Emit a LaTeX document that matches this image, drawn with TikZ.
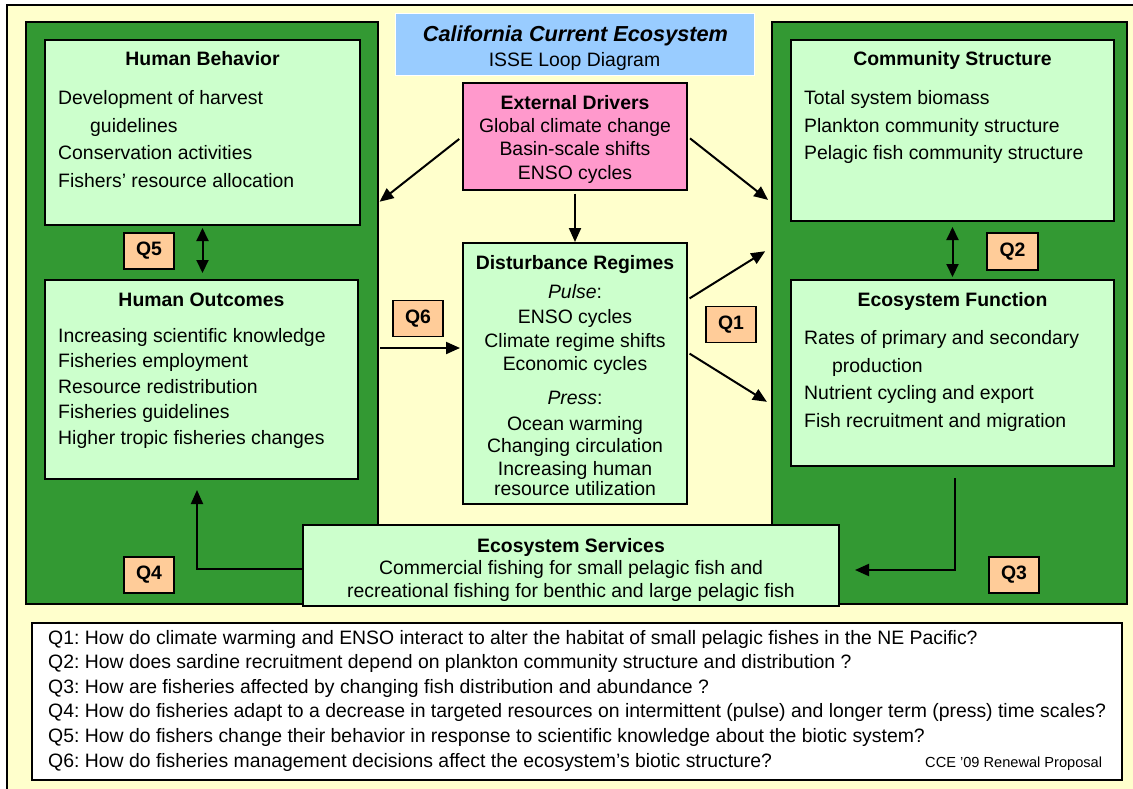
\documentclass[tikz,border=0pt]{standalone}
\usepackage{fontspec}
\setmainfont{Liberation Sans}
\usetikzlibrary{arrows.meta,positioning}
\frenchspacing

\definecolor{panelgreen}{HTML}{339933}
\definecolor{boxgreen}{HTML}{CCFFCC}
\definecolor{paleyellow}{HTML}{FFFFCC}
\definecolor{drvpink}{HTML}{FF99CC}
\definecolor{ttlblue}{HTML}{99CCFF}
\definecolor{qpeach}{HTML}{FFCC99}

\tikzset{
  panel/.style={draw, line width=1.3pt, fill=panelgreen, inner sep=0pt, outer sep=0pt},
  box/.style={draw, line width=1.3pt, fill=boxgreen, inner sep=0pt, outer sep=0pt},
  qbox/.style={draw, line width=1.3pt, fill=qpeach, minimum width=50pt, minimum height=36pt,
    inner sep=0pt, font=\fontsize{19.4}{24}\selectfont\bfseries},
  hd/.style={anchor=base, inner sep=0pt, font=\fontsize{19.4}{24}\selectfont\bfseries},
  ln/.style={anchor=base, inner sep=0pt},
  li/.style={anchor=base west, inner sep=0pt},
  arr/.style={line width=2pt, -{Triangle[length=14pt,width=12pt]}},
  darr/.style={line width=2pt, {Triangle[length=13pt,width=12pt]}-{Triangle[length=13pt,width=12pt]}},
}

\begin{document}
\begin{tikzpicture}[x=1pt, y=-1pt, font=\fontsize{19.4}{24}\selectfont]
    \useasboundingbox (0,0) rectangle (1133,788);
    \fill[white] (0,0) rectangle (1133,788);

    % Background sheet
    \draw[fill=paleyellow, line width=1.3pt] (7,5) rectangle (1145,800);

    % Green panels
    \node[panel, minimum width=352pt, minimum height=582pt] (lp) at (202,313) {};
    \node[panel, minimum width=355pt, minimum height=582pt] (rp) at (949.5,313) {};

    % Title
    \node[draw=white, line width=1pt, fill=ttlblue, minimum width=359pt, minimum height=62pt] (ttl) at (574.5,44) {};
    \node[ln, font=\fontsize{21.7}{24}\selectfont\bfseries\itshape] (ttl-a) at (575.5,41) {California Current Ecosystem};
    \node[ln] (ttl-b) at (574.5,66) {ISSE Loop Diagram};

    % Human Behavior
    \node[box, minimum width=315pt, minimum height=185pt] (hb) at (202.5,132.5) {};
    \node[hd] (hb-t) at (202.5,65) {Human Behavior};
    \foreach \y/\t in {104/Development of harvest, 132/\hspace*{32pt}guidelines,
                       159/Conservation activities, 187/Fishers’ resource allocation}
        \node[li] (hb-\y) at (58,\y) {\t};

    % Human Outcomes
    \node[box, minimum width=313pt, minimum height=199pt] (ho) at (201.5,379.5) {};
    \node[hd] (ho-t) at (201.5,306) {Human Outcomes};
    \foreach \t [count=\i] in {Increasing scientific knowledge, Fisheries employment,
                       Resource redistribution, Fisheries guidelines, Higher tropic fisheries changes}
        \node[li] (ho-\i) at (58,316.5+25.5*\i) {\t};

    % Community Structure
    \node[box, minimum width=323pt, minimum height=181pt] (cs) at (952.5,130.5) {};
    \node[hd] (cs-t) at (952.5,65) {Community Structure};
    \foreach \y/\t in {104/Total system biomass, 132/Plankton community structure,
                       159/Pelagic fish community structure}
        \node[li] (cs-\y) at (804,\y) {\t};

    % Ecosystem Function
    \node[box, minimum width=323pt, minimum height=186pt] (ef) at (952.5,373) {};
    \node[hd] (ef-t) at (952.5,306) {Ecosystem Function};
    \foreach \y/\t in {344/Rates of primary and secondary, 372/\hspace*{28pt}production,
                       399/Nutrient cycling and export, 427/Fish recruitment and migration}
        \node[li] (ef-\y) at (804,\y) {\t};

    % External Drivers
    \node[draw, line width=1.3pt, fill=drvpink, minimum width=224pt, minimum height=107pt] (ed) at (575,136.5) {};
    \node[hd] (ed-t) at (575,109) {External Drivers};
    \foreach \y/\t in {132/Global climate change, 155/Basin-scale shifts, 179/ENSO cycles}
        \node[ln] (ed-\y) at (575,\y) {\t};

    % Disturbance Regimes
    \node[box, minimum width=224pt, minimum height=261pt] (dr) at (575,373.5) {};
    \node[hd] (dr-t) at (575,269) {Disturbance Regimes};
    \foreach \y/\t in {298/\textit{Pulse}:, 323/ENSO cycles, 347/Climate regime shifts,
                       370/Economic cycles, 404/\textit{Press}:, 430/Ocean warming,
                       452/Changing circulation, 475/Increasing human, 495/resource utilization}
        \node[ln] (dr-\y) at (575,\y) {\t};

    % Ecosystem Services
    \node[box, minimum width=536pt, minimum height=81pt] (es) at (571,565.5) {};
    \node[hd] (es-t) at (571,552) {Ecosystem Services};
    \node[ln] (es-a) at (571,574) {Commercial fishing for small pelagic fish and};
    \node[ln] (es-b) at (571,597) {recreational fishing for benthic and large pelagic fish};

    % Question tags
    \node[qbox] (q5) at (149,251) {Q5};
    \node[qbox] (q4) at (149,575) {Q4};
    \node[qbox] (q6) at (418,318.5) {Q6};
    \node[qbox] (q1) at (731,324.5) {Q1};
    \node[qbox, minimum width=51pt, minimum height=37pt] (q2) at (1012.5,251.5) {Q2};
    \node[qbox] (q3) at (1014,575) {Q3};

    % Arrows
    \draw[arr, shorten <=3pt, shorten >=1pt] (ed.south) -- (dr.north);
    \draw[arr, shorten <=4pt, shorten >=2pt] (ed.west) -- (lp.east |- 0,203);
    \draw[arr, shorten <=3pt, shorten >=5pt] (ed.east) -- (rp.west |- 0,203);
    \draw[arr, shorten <=3pt, shorten >=8pt] (dr.east |- 0,300) -- (rp.west |- 0,247);
    \draw[arr, shorten <=3pt, shorten >=6pt] (dr.east |- 0,352) -- (rp.west |- 0,405);
    \draw[arr, shorten <=2pt, shorten >=3pt] (lp.east |- 0,348) -- (dr.west |- 0,348);
    \draw[darr, shorten <=3pt, shorten >=7pt] (hb.south) -- (hb.south |- ho.north);
    \draw[darr, shorten <=6pt, shorten >=3pt] (cs.south) -- (ef.north);
    \draw[arr, shorten >=11pt] (es.west |- 0,569) -| ([xshift=-4.5pt]ho.south);
    \draw[arr, shorten <=12pt, shorten >=16pt] ([xshift=2.5pt]ef.south) |- (es.east |- 0,570);

    % Questions
    \node[draw, line width=1.3pt, fill=white, minimum width=1090pt, minimum height=157pt] (qs) at (577,701.5) {};
    \foreach \t [count=\i] in {
        Q1: How do climate warming and ENSO interact to alter the habitat of small pelagic fishes in the NE Pacific?,
        Q2: How does sardine recruitment depend on plankton community structure and distribution ?,
        Q3: How are fisheries affected by changing fish distribution and abundance ?,
        Q4: How do fisheries adapt to a decrease in targeted resources on intermittent (pulse) and longer term (press) time scales?,
        Q5: How do fishers change their behavior in response to scientific knowledge about the biotic system?,
        Q6: How do fisheries management decisions affect the ecosystem’s biotic structure?}
        \node[li] (qs-\i) at (48,619.4+24.6*\i) {\t};
    \node[li, font=\fontsize{14.6}{16}\selectfont] (cce) at (925,767) {CCE ’09 Renewal Proposal};

\end{tikzpicture}
\end{document}
